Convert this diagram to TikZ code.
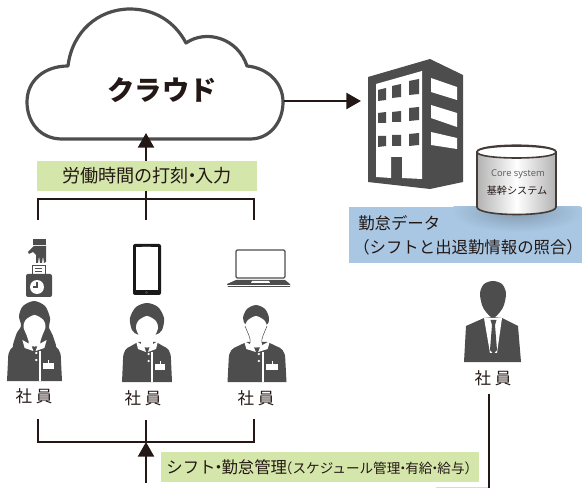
\documentclass[tikz,border=0pt]{standalone}
\usepackage{fontspec}
\setmainfont{Noto Sans CJK JP}
\newfontfamily\corefont{Open Sans}
\usetikzlibrary{arrows.meta,positioning}
\definecolor{InkBlack}{HTML}{231815}
\definecolor{IconGray}{HTML}{4D4D4D}
\definecolor{LabelGreen}{HTML}{D5E6AB}
\definecolor{DataBlue}{HTML}{A9C7E3}
\newcommand{\midpt}{\kern-.32em・\kern-.32em}
\tikzset{
    staffbody/.pic={
        \fill[IconGray] (-25,0) -- (-24,-22) .. controls (-24,-31) and (-21,-34) .. (-16,-36) -- (-9,-40) -- (9,-40) -- (16,-36) .. controls (21,-34) and (24,-31) .. (24,-22) -- (25,0) -- cycle;
        \draw[white, line width=1.2pt] (5,0) -- (5,-30);
        \fill[white] (-11,-41) -- (-9,-33) -- (-1,-30) -- (-3,-36) -- cycle;
        \fill[white] (11,-41) -- (9,-33) -- (1,-30) -- (3,-36) -- cycle;
        \fill[white] (1.6,-28) circle (1.2) (1.6,-21) circle (1.2);
        \fill[white] (8,-18) rectangle (18,-12);
        \draw[white, line width=.6pt] (13,-21) -- (13,-18);
    },
    staffface/.pic={
        \fill[white] plot[smooth cycle] coordinates {(-9,-61) (0,-66) (9,-61) (11,-54) (8,-46) (6,-40) (5,-35) (-5,-35) (-6,-40) (-8,-46) (-11,-54)};
    },
    greenbox/.style={fill=LabelGreen, inner sep=0pt, text=InkBlack, align=center},
    staffname/.style={inner sep=0pt, text=InkBlack, font=\fontsize{12.4pt}{14pt}\selectfont},
    conn/.style={InkBlack, line width=1.8pt},
    arrow/.style={conn, -{Triangle[width=12pt, length=11pt]}}
}
\begin{document}
\begin{tikzpicture}[x=0.75pt, y=-0.75pt]
    \useasboundingbox (0,0) rectangle (582,488);

    \draw[IconGray, line width=2.4pt, fill=white, line join=round]
        (62,139) .. controls (40,139) and (27,122) .. (27,102)
        .. controls (27,80) and (45,66) .. (68,66)
        .. controls (72,32) and (98,9) .. (130,9)
        .. controls (155,9) and (175,22) .. (186,43)
        .. controls (206,29) and (238,38) .. (247,66)
        .. controls (268,68) and (283,83) .. (283,102)
        .. controls (283,122) and (270,139) .. (250,139) -- cycle;
    \node[inner sep=0pt, text=InkBlack, font=\fontsize{20.5pt}{24pt}\selectfont\bfseries] (cloud) at (162,90) {クラウド};
    \coordinate (cloudE) at (284,101);
    \coordinate (cloudS) at (146,133);

    \fill[IconGray] (368,77) -- (430,59) -- (463,75) -- (463,182) -- (430,189) -- (368,182) -- cycle;
    \fill[white] (376,84) -- (422,71) -- (422,179) -- (402,178) -- (402,157) -- (391,157) -- (391,178) -- (376,177) -- cycle;
    \fill[IconGray] (378,90) -- (386,88) -- (386,100) -- (378,101) -- cycle
        (392,86) -- (401,84) -- (401,97) -- (392,98) -- cycle
        (409,81) -- (419,79) -- (419,94) -- (409,95) -- cycle
        (378,113) -- (386,112) -- (386,123) -- (378,123) -- cycle
        (392,112) -- (401,111) -- (401,122) -- (392,122) -- cycle
        (409,108) -- (419,107) -- (419,120) -- (409,121) -- cycle
        (378,136) -- (386,136) -- (386,146) -- (378,147) -- cycle
        (392,135) -- (401,135) -- (401,146) -- (392,146) -- cycle
        (409,134) -- (419,133) -- (419,145) -- (409,146) -- cycle;
    \fill[white] (431,78) -- (457,87) -- (457,100) -- (431,92) -- cycle
        (431,105) -- (457,113) -- (457,127) -- (431,118) -- cycle
        (431,132) -- (457,138) -- (457,149) -- (431,145) -- cycle;
    \coordinate (buildW) at (361,101);

    \fill[DataBlue] (349,207) rectangle (582,263);
    \begin{scope}
        \clip (349,207) rectangle (582,263);
        \shade[inner color=DataBlue!78!black, outer color=DataBlue] (517,212) ellipse (66 and 20);
    \end{scope}
    \draw[InkBlack!85, line width=1.2pt, left color=black!30, right color=black!30, middle color=white]
        (477,152) -- (477,207) .. controls (477,217) and (556,217) .. (556,207) -- (556,152)
        .. controls (556,143) and (477,143) .. (477,152) -- cycle;
    \draw[InkBlack!85, line width=1.2pt, fill=white]
        (477,152) .. controls (477,144) and (556,144) .. (556,152)
        .. controls (556,160) and (477,160) .. (477,152) -- cycle;
    \node[inner sep=0pt, text=black!65, font=\corefont\fontsize{7pt}{8pt}\selectfont] (coretext) at (518,174) {Core system};
    \node[inner sep=0pt, text=InkBlack, font=\fontsize{7.6pt}{9pt}\selectfont] (coreja) at (517,191) {基幹システム};
    \node[inner sep=0pt, anchor=west, text=InkBlack, font=\fontsize{12.3pt}{14pt}\selectfont] (dataone) at (358,223) {勤怠データ};
    \node[inner sep=0pt, anchor=west, text=InkBlack, font=\fontsize{12.3pt}{14pt}\selectfont] (datatwo) at (353,247) {（シフトと出退勤情報の照合）};

    \node[greenbox, minimum width=165pt, minimum height=22.5pt, font=\fontsize{13.6pt}{14pt}\selectfont] (inputbox) at (147,176) {労働時間の打刻\midpt 入力};
    \node[greenbox, anchor=west, minimum width=238.5pt, minimum height=22.5pt] (shiftbox) at (161,467) {\fontsize{12.3pt}{14pt}\selectfont シフト\midpt 勤怠管理\fontsize{10.2pt}{14pt}\selectfont\kern-.6em（スケジュール管理\midpt 有給\midpt 給与）\kern-.3em};

    \coordinate (topL) at (38,220);
    \coordinate (topM) at (146,220);
    \coordinate (topR) at (254,220);
    \coordinate (topHub) at (146,199);
    \coordinate (botL) at (38,419);
    \coordinate (botM) at (146,420);
    \coordinate (botR) at (254,419);
    \coordinate (botHub) at (146,442);
    \coordinate (botIn) at (146,483);
    \coordinate (manS) at (489,394);
    \coordinate (manE) at (489,488);
    \coordinate (manW) at (436,487.5);

    \draw[conn] (topL) |- (topHub) -| (topR);
    \draw[conn] (topM) -- (topHub) -- (inputbox.south -| topHub);
    \draw[arrow] (inputbox.north -| topHub) -- (cloudS);
    \draw[conn] (botL) |- (botHub) -| (botR);
    \draw[conn] (botM) -- (botHub);
    \draw[arrow] (botIn) -- (botHub);
    \draw[arrow] (cloudE) -- (buildW);
    \draw[black!15, line width=.6pt] (manW) -- (manW -| manS);
    \draw[conn] (manS) -- (manE);

    \fill[IconGray] (33,239) rectangle (46,245);
    \fill[IconGray] (34,246) -- (46,246) -- (46,262) -- (44,263) -- (43,256) -- (42,263) -- (40,263) -- (39,256) -- (38,263) -- (36,263) -- (36,255) -- (33,252) -- (29,254) -- (28,252) -- cycle;
    \draw[IconGray, fill=white, line width=.6pt] (32,265) rectangle (45,274);
    \draw[IconGray, line width=.7pt] (35,268) -- (42,268) (35,271) -- (42,271);
    \fill[IconGray, rounded corners=1.5pt] (26,274) rectangle (52,297);
    \fill[white] (37,287) circle (7);
    \draw[IconGray, line width=.8pt] (37,282) -- (37,287) -- (33,287);

    \fill[black!90, rounded corners=1.5pt] (133,244) rectangle (161,295);
    \fill[white] (135.5,247.5) rectangle (157.5,290);
    \draw[IconGray, line width=.6pt] (142,246) -- (151,246);
    \draw[IconGray, line width=.5pt] (146.5,292.5) circle (1);

    \draw[IconGray, line width=.9pt, rounded corners=1pt] (236,278) -- (236,250) -- (285,250) -- (285,278) -- cycle;
    \fill[IconGray] (236,280) -- (285,280) -- (290,284) -- (290,287) -- (228,287) -- (227,284) -- cycle;
    \fill[white] (252,281) -- (269,281) -- (270,283) -- (251,283) -- cycle;
    \draw[white, line width=.4pt] (227,285) -- (290,285);

    \fill[IconGray] plot[smooth cycle] coordinates {(34,301) (45,306) (50,318) (49,328) (53,336) (54,352) (15,352) (16,335) (21,326) (19,316) (23,306)};
    \pic at (34.5,381) [xscale=1.1] {staffbody};
    \pic at (34.5,381) {staffface};
    \fill[IconGray] plot[smooth cycle] coordinates {(147,303) (158,307) (164,318) (162,330) (155,335) (139,335) (132,330) (130,318) (136,307)};
    \pic at (147,382) {staffbody};
    \pic at (147,382) {staffface};
    \fill[IconGray] plot[smooth cycle] coordinates {(256,305) (265,309) (269,318) (266,325) (247,325) (243,318) (247,309)};
    \pic at (257,382) [xscale=1.18] {staffbody};
    \pic at (256,382) {staffface};
    \draw[IconGray, line width=.4pt] (245,326) .. controls (248,334) and (251,338) .. (250,343) (267,326) .. controls (264,334) and (261,338) .. (262,343);

    \fill[IconGray] plot[smooth cycle] coordinates {(493,281) (502,284) (506,293) (504,305) (500,312) (493,318) (486,312) (482,305) (480,293) (484,284)};
    \fill[IconGray] (464,362) -- (466,326) -- (484,318) -- (493,317) -- (502,318) -- (518,326) -- (521,362) -- cycle;
    \fill[white] (484,318) -- (502,318) -- (497,353) -- (490,353) -- cycle;
    \fill[IconGray] (490.5,320) -- (496.5,320) -- (495,325) -- (497,350) -- (493.5,354) -- (490,350) -- (492,325) -- cycle;

    \node[staffname] (staffa) at (34,396) {社 員};
    \node[staffname] (staffb) at (143,398) {社 員};
    \node[staffname] (staffc) at (256,398) {社 員};
    \node[staffname] (staffd) at (493,378) {社 員};
\end{tikzpicture}
\end{document}
